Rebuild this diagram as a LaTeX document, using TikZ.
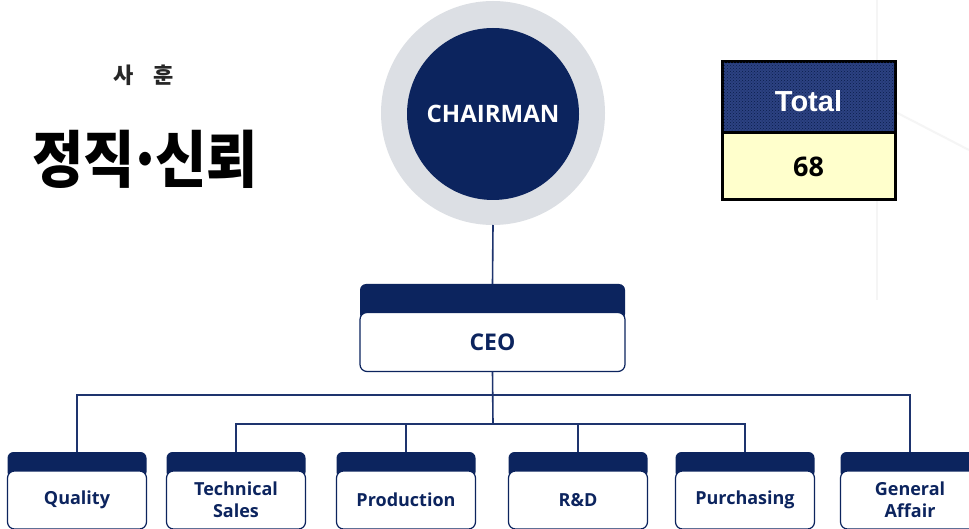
\documentclass[tikz,border=0pt]{standalone}
\usepackage{fontspec}
\setmainfont{Open Sans}
\newfontfamily\krfont{Noto Sans CJK KR}
\newfontfamily\arialfont{Liberation Sans}
\usetikzlibrary{backgrounds,patterns}
\definecolor{navy}{RGB}{12,36,94}
\definecolor{linenavy}{RGB}{30,52,110}
\definecolor{ringgray}{RGB}{220,223,228}
\definecolor{totblue}{RGB}{44,66,130}
\definecolor{paleyellow}{RGB}{255,255,204}
\tikzset{
  body/.style={draw=navy, line width=1.2pt, fill=white, rounded corners=7pt,
    inner sep=0pt, outer sep=0pt, text=navy, align=center,
    font=\fontsize{18}{22}\selectfont\bfseries},
  hdr/.style={fill=navy, rounded corners=6pt, inner sep=0pt, outer sep=0pt},
  conn/.style={draw=linenavy, line width=1.6pt},
  dept/.style={body, minimum width=139, minimum height=58},
  depthdr/.style={hdr, minimum width=139, minimum height=26, anchor=north},
  tot/.style={draw=black, line width=3pt, minimum width=173, inner sep=0pt, outer sep=0pt}
}
\begin{document}
\begin{tikzpicture}[x=1pt,y=-1pt]
\useasboundingbox (0,0) rectangle (969,529);
\begin{scope}[on background layer]
\fill[white] (0,0) rectangle (969,529);
\end{scope}
% faint decorative background lines
\draw[black!4, line width=2pt] (877,0) -- (877,300);
\draw[black!4, line width=2pt] (880,104) -- (969,150);

% Korean motto
\node[font=\fontsize{22}{26}\selectfont\krfont\bfseries, text=black!85] (mottotitle) at (144,75) {사\hspace{0.9em}훈};
\node[font=\fontsize{62}{66}\selectfont\krfont\bfseries, xscale=0.9, inner sep=0pt] (motto) at (145,159) {정직\kern-0.12em·\kern-0.12em신뢰};

% Chairman
\node[circle, fill=ringgray, minimum size=224, inner sep=0pt, outer sep=0pt] (chairring) at (493,113) {};
\node[circle, fill=navy, minimum size=172, inner sep=0pt, text=white,
      font=\fontsize{24}{28}\selectfont\bfseries] (chair) at (493,114) {CHAIRMAN};

% Total table
\node[tot, minimum height=71, fill=totblue,
      postaction={pattern=crosshatch dots, pattern color=navy!80!black}] (totalh) at (808.5,97.5) {};
\node[text=white, font=\fontsize{29}{32}\selectfont\arialfont\bfseries] (totaltxt) at ([yshift=-4pt]totalh.center) {Total};
\node[tot, minimum height=67, fill=paleyellow, anchor=north,
      font=\fontsize{27}{30}\selectfont\bfseries] (totalv) at (totalh.south) {68};

% CEO
\node[body, minimum width=265, minimum height=59, font=\fontsize{23}{26}\selectfont\bfseries] (ceo) at (492.5,342) {CEO};
\begin{scope}[on background layer]
\node[hdr, minimum width=265, minimum height=36, anchor=north] (ceoh) at (492.5,284) {};
\end{scope}

% Departments
\node[dept] (qual) at (77,500) {Quality};
\node[dept] (tsales) at (236,500) {Technical\\Sales};
\node[dept] (prod) at (406,500) {Production};
\node[dept] (rnd) at (578,500) {R\&D};
\node[dept] (purch) at (745,500) {Purchasing};
\node[dept] (ga) at (910,500) {General\\Affair};
\begin{scope}[on background layer]
\node[depthdr] (qualh) at (77,452) {};
\node[depthdr] (tsalesh) at (236,452) {};
\node[depthdr] (prodh) at (406,452) {};
\node[depthdr] (rndh) at (578,452) {};
\node[depthdr] (purchh) at (745,452) {};
\node[depthdr] (gah) at (910,452) {};
\end{scope}

% Connectors
\coordinate (busA) at (493,395);
\coordinate (busB) at (493,424);
\draw[conn] (chairring.south) -- (ceoh.north);
\draw[conn] (ceo.south) -- (busB);
\draw[conn] (qualh.north) -- (qualh.north |- busA) -- (gah.north |- busA) -- (gah.north);
\draw[conn] (tsalesh.north) -- (tsalesh.north |- busB) -- (purchh.north |- busB) -- (purchh.north);
\draw[conn] (prodh.north) -- (prodh.north |- busB);
\draw[conn] (rndh.north) -- (rndh.north |- busB);
\end{tikzpicture}
\end{document}
